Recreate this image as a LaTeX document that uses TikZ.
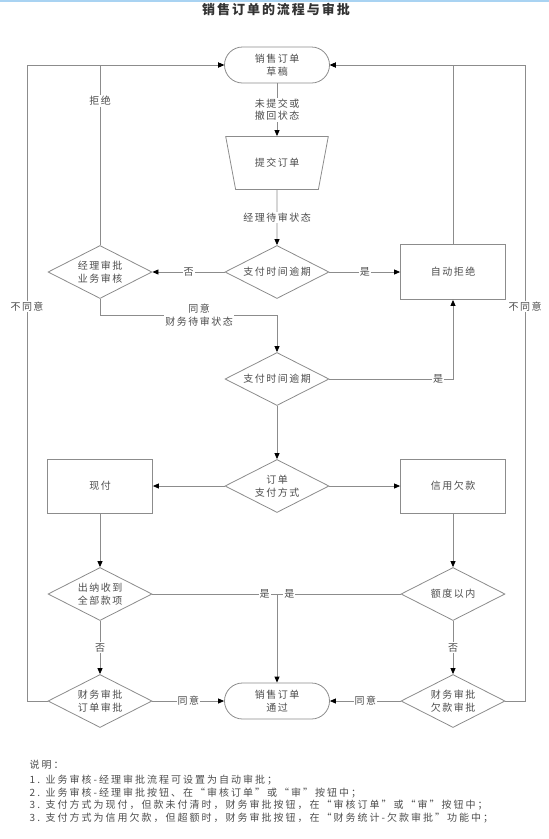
\documentclass[tikz,border=0pt]{standalone}
\usepackage{fontspec}
\setmainfont{Noto Sans CJK SC}[LetterSpace=15]
\newfontfamily\notefont{Noto Sans CJK SC}[LetterSpace=20]
\usetikzlibrary{arrows.meta,shapes.geometric}
\definecolor{linegray}{HTML}{8C8C8C}
\definecolor{textgray}{HTML}{4D4D4D}
\definecolor{topblue}{HTML}{A9D3F2}

\begin{document}
\begin{tikzpicture}[x=1pt,y=-1pt,line width=0.8pt,
  every node/.style={font=\fontsize{10}{12.5}\selectfont,text=textgray},
  term/.style={draw=linegray,rounded corners=18pt,minimum width=105pt,minimum height=36pt,align=center},
  proc/.style={draw=linegray,minimum width=105pt,minimum height=#1,align=center},proc/.default=54pt,
  cond/.style={draw=linegray,diamond,aspect=2,inner sep=0pt,minimum width=104pt,minimum height=53pt,align=center},
  trap/.style={draw=linegray,trapezium,shape border rotate=180,trapezium stretches=true,
               trapezium angle=69,minimum width=103pt,minimum height=53pt},
  lbl/.style={fill=white,inner sep=1pt,align=center},
  flow/.style={draw=linegray,-{Triangle[length=6pt,width=5pt,black]}}]
  \useasboundingbox (0,0) rectangle (549,839);
  \fill[topblue] (0,0) rectangle (549,1.5);
  \node[font=\fontsize{13}{15}\selectfont\bfseries,text=black!80] (title) at (276,9) {销售订单的流程与审批};
  % main flow
  \node[term] (d) at (277,65) {销售订单\\草稿};
  \node[trap] (sub) at (277,163) {提交订单};
  \node[cond] (dec1) at (277,272) {支付时间逾期};
  \node[cond] (mgr) at (100,272) {经理审批\\业务审核};
  \node[proc=55pt] (auto) at (453,272) {自动拒绝};
  \node[cond] (dec2) at (277,379) {支付时间逾期};
  \node[cond] (pay) at (277,486) {订单\\支付方式};
  \node[proc] (cash) at (100,486) {现付};
  \node[proc] (credit) at (453,486) {信用欠款};
  \node[cond] (rcv) at (100,594) {出纳收到\\全部款项};
  \node[cond] (quota) at (453,594) {额度以内};
  \node[cond] (fin1) at (100,701) {财务审批\\订单审批};
  \node[term] (ok) at (277,701) {销售订单\\通过};
  \node[cond] (fin2) at (453,701) {财务审批\\欠款审批};
  \coordinate (jmgr) at (277,315);
  \coordinate (jok) at (277,594);
  \coordinate (lft) at (27,701);
  \coordinate (rgt) at (525,701);
  % connectors
  \draw[flow] (d) -- node[lbl]{未提交或\\撤回状态} (sub);
  \draw[flow] (sub) -- node[lbl]{经理待审状态} (dec1);
  \draw[flow] (dec1) -- node[lbl]{否} (mgr);
  \draw[flow] (dec1) -- node[lbl]{是} (auto);
  \draw[flow] (auto.north) |- (d.east);
  \draw[flow] (mgr.north) |- node[lbl,pos=0.4]{拒绝} (d.west);
  \draw[flow] (mgr.south) |- node[lbl,pos=0.78]{同意\\财务待审状态} (jmgr) -- (dec2.north);
  \draw[flow] (dec2.east) -| node[lbl,pos=0.44]{是} (auto.south);
  \draw[draw=linegray] (rcv.east) -- node[lbl,pos=0.9]{是} (jok);
  \draw[draw=linegray] (quota.west) -- node[lbl,pos=0.9]{是} (jok);
  \foreach \a/\b in {dec2/pay,pay/cash,pay/credit,cash/rcv,credit/quota,jok/ok}
    \draw[flow] (\a) -- (\b);
  \draw[flow] (rcv) -- node[lbl]{否} (fin1);
  \draw[flow] (quota) -- node[lbl]{否} (fin2);
  \draw[flow] (fin1) -- node[lbl]{同意} (ok);
  \draw[flow] (fin2) -- node[lbl]{同意} (ok);
  \draw[flow] (fin1.west) -- (lft) |- node[lbl,pos=0.31]{不同意} (d.west);
  \draw[flow] (fin2.east) -- (rgt) |- node[lbl,pos=0.31]{不同意} (d.east);
  % notes
  \node[anchor=north west,align=left,font=\notefont\fontsize{10}{12.5}\selectfont] (note) at (26,756)
    {说明：\\[3pt]
     1. 业务审核-经理审批流程可设置为自动审批；\\
     2. 业务审核-经理审批按钮、在“审核订单”或“审”按钮中；\\
     3. 支付方式为现付，但款未付清时，财务审批按钮，在“审核订单”或“审”按钮中；\\
     3. 支付方式为信用欠款，但超额时，财务审批按钮，在“财务统计-欠款审批”功能中；};
\end{tikzpicture}
\end{document}
